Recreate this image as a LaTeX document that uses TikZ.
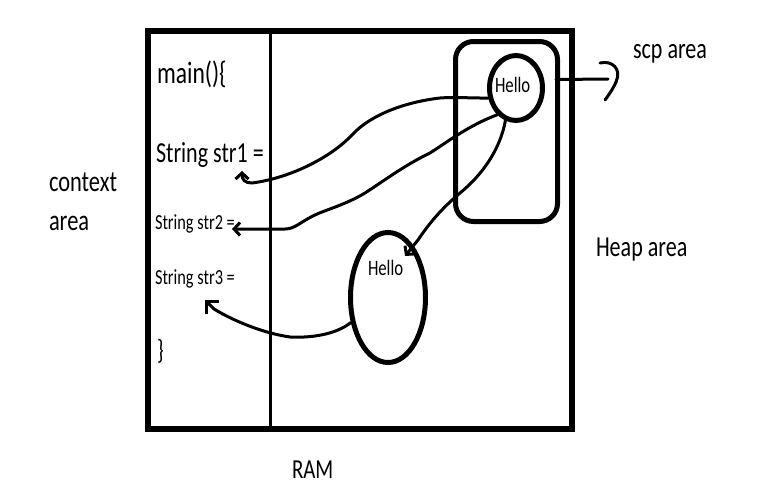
\documentclass[tikz,border=0pt]{standalone}
\usepackage{fontspec}
\setmainfont{Carlito}
\usepackage{graphicx}
\usetikzlibrary{shapes.geometric,arrows.meta,calc}
\newcommand{\sqz}[1]{\scalebox{0.76}[1]{#1}}
\newcommand{\fsz}[1]{\fontsize{#1}{#1}\selectfont}
\begin{document}
\begin{tikzpicture}[x=1pt,y=-1pt,
  lbl/.style={anchor=base west,inner sep=0pt,outer sep=0pt},
  conn/.style={line width=3pt,line cap=round,line join=round},
  barb/.style={-{Straight Barb[length=6pt,width=13pt]}},
  bigbarb/.style={-{Straight Barb[length=9pt,width=18pt]}},
  heavy/.style={draw,line width=5pt,inner sep=0pt}]
\useasboundingbox (0,0) rectangle (781,501);
% RAM box and divider
\node[heavy,line width=5.5pt,minimum width=424pt,minimum height=398pt,anchor=north west] (ram) at (145,28) {};
\draw[line width=3.5pt] ($(ram.north west)+(125.5,0)$) -- ($(ram.south west)+(125.5,0)$);
% scp area box
\node[heavy,rounded corners=18pt,minimum width=102pt,minimum height=180pt] (scp) at (506.5,131.5) {};
% objects
\node[heavy,ellipse,minimum width=53pt,minimum height=65pt] (h1) at (516,88) {};
\node[lbl,font=\fsz{22}] (h1t) at (495,92) {\sqz{Hello}};
\node[heavy,ellipse,minimum width=75pt,minimum height=130pt] (h2) at (388,297.5) {};
\node[lbl,font=\fsz{22}] (h2t) at (368,275) {\sqz{Hello}};
% code text
\node[lbl,font=\fsz{31}] (main) at (157,83) {\sqz{main()\{}};
\node[lbl,font=\fsz{29}] (str1) at (156,162) {\sqz{String str1 =}};
\node[lbl,font=\fsz{21.5}] (str2) at (155,229) {\sqz{String str2 =}};
\node[lbl,font=\fsz{21.5}] (str3) at (155,284) {\sqz{String str3 =}};
\node[lbl,font=\fsz{28}] (brace) at (157,359) {\sqz{\}}};
% labels
\node[lbl,font=\fsz{29.5}] (ctx) at (49,191) {\sqz{context}};
\node[lbl,font=\fsz{29.5}] (ctxa) at (49,230) {\sqz{area}};
\node[lbl,font=\fsz{29}] (heap) at (596,256) {\sqz{Heap area}};
\node[lbl,font=\fsz{29}] (scpa) at (633,58) {\sqz{scp area}};
\node[lbl,font=\fsz{27.5}] (ramt) at (292,478) {\sqz{RAM}};
% connectors
\draw[conn,barb] (h1.200) .. controls (470,98) and (452,97) .. (440,98)
  .. controls (405,102) and (370,115) .. (352,135)
  .. controls (330,158) and (290,178) .. (252,183)
  .. controls (245,183) and (242,180) .. ($(str1.base west)+(86,9)$);
\draw[conn,barb] (h1.235) .. controls (470,125) and (450,140) .. (430,153)
  .. controls (405,165) and (385,180) .. (365,193)
  .. controls (345,205) and (325,210) .. (315,215)
  .. controls (300,222) and (295,229) .. (285,229)
  -- ($(str2.base west)+(77,0)$);
\draw[conn,barb] (h1.252) .. controls (500,150) and (482,175) .. (460,193)
  .. controls (440,210) and (428,225) .. (418,240)
  -- ($(h2.center)+(17,-41.5)$);
\draw[conn,bigbarb] (h2.214) .. controls (335,335) and (310,338) .. (290,337)
  .. controls (262,333) and (232,320) .. (214,309)
  -- ($(str3.base west)+(50,16)$);
% scp pointer with hand-drawn hook tip
\coordinate (hk) at ($(scpa.base west)+(-25,21)$);
\draw[conn] ($(scp.east)+(-4,-52)$) -- (hk);
\draw[conn] ($(hk)+(-8,-16)$) .. controls ($(hk)+(4,-19)$) and ($(hk)+(14,-10)$) .. ($(hk)+(8,3)$)
  .. controls ($(hk)+(5,10)$) and ($(hk)+(0,17)$) .. ($(hk)+(-3,21)$);
\end{tikzpicture}
\end{document}
